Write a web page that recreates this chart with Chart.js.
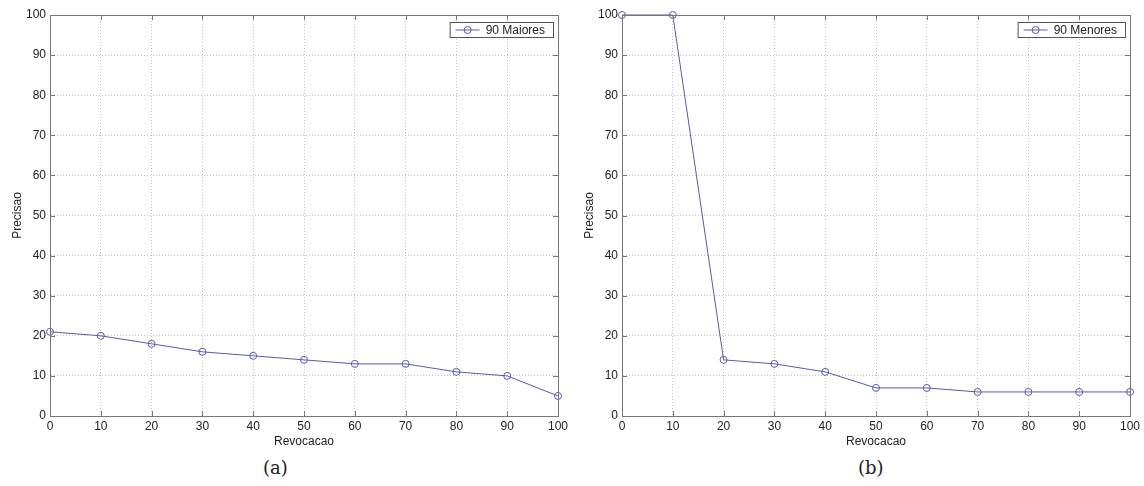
<!DOCTYPE html>
<html>
<head>
<meta charset="utf-8">
<script src="https://cdn.jsdelivr.net/npm/chart.js@4"></script>
<style>
  body { margin: 0; background: #fff; width: 1144px; height: 486px; position: relative; overflow: hidden; }
  .box { position: absolute; top: 0; width: 572px; height: 455px; }
  .cap { position: absolute; top: 457px; font: 18px "DejaVu Serif", "Liberation Serif", serif; color: #222; }
</style>
</head>
<body>
<div class="box" style="left:0"><canvas id="chartA"></canvas></div>
<div class="box" style="left:572px"><canvas id="chartB"></canvas></div>
<div class="cap" style="left:263px">(a)</div>
<div class="cap" style="left:858px">(b)</div>
<script>
// recall levels (x) and precision (y)
var recall = [0, 10, 20, 30, 40, 50, 60, 70, 80, 90, 100];
var maiores = [21, 20, 18, 16, 15, 14, 13, 13, 11, 10, 5];
var menores = [100, 100, 14, 13, 11, 7, 7, 6, 6, 6, 6];
var xTicks = [0, 10, 20, 30, 40, 50, 60, 70, 80, 90, 100];
var yTicks = [0, 10, 20, 30, 40, 50, 60, 70, 80, 90, 100];

var lineColor = '#5a5aa8';
var txt = '#222';
var font = { family: '"Liberation Sans", Arial, sans-serif', size: 12 };

// box around plot, small inner ticks and legend inside top right (matlab style)
var matlabBox = {
    id: 'matlabBox',
    afterDraw: function (chart) {
        var c = chart.ctx, a = chart.chartArea;
        c.save();
        c.strokeStyle = '#777';
        c.lineWidth = 1;
        c.strokeRect(a.left + 0.5, a.top + 0.5, a.right - a.left, a.bottom - a.top);
        c.beginPath();
        chart.scales.x.ticks.forEach(function (t) {
            var px = Math.round(chart.scales.x.getPixelForValue(t.value)) + 0.5;
            c.moveTo(px, a.bottom); c.lineTo(px, a.bottom - 5);
            c.moveTo(px, a.top); c.lineTo(px, a.top + 5);
        });
        chart.scales.y.ticks.forEach(function (t) {
            var py = Math.round(chart.scales.y.getPixelForValue(t.value)) + 0.5;
            c.moveTo(a.left, py); c.lineTo(a.left + 5, py);
            c.moveTo(a.right, py); c.lineTo(a.right - 5, py);
        });
        c.stroke();
        // legend
        var label = chart.data.datasets[0].label;
        c.font = '12px "Liberation Sans", Arial, sans-serif';
        var w = c.measureText(label).width + 44;
        var x = a.right - 5 - w, y = a.top + 7, h = 15;
        c.fillStyle = '#fff';
        c.fillRect(x, y, w, h);
        c.strokeStyle = '#555';
        c.strokeRect(x + 0.5, y + 0.5, w, h);
        c.strokeStyle = lineColor;
        c.beginPath();
        c.moveTo(x + 6, y + h / 2 + 0.5);
        c.lineTo(x + 30, y + h / 2 + 0.5);
        c.stroke();
        c.beginPath();
        c.arc(x + 18, y + h / 2 + 0.5, 3.5, 0, Math.PI * 2);
        c.stroke();
        c.fillStyle = txt;
        c.textBaseline = 'middle';
        c.fillText(label, x + 36, y + h / 2 + 1);
        c.restore();
    }
};

function makeChart(id, label, values) {
    var pts = recall.map(function (r, i) { return { x: r, y: values[i] }; });
    return new Chart(document.getElementById(id), {
        type: 'scatter',
        data: {
            datasets: [{
                label: label,
                data: pts,
                showLine: true,
                borderColor: lineColor,
                borderWidth: 1,
                backgroundColor: 'rgba(0,0,0,0)',
                pointBorderColor: lineColor,
                pointBorderWidth: 1,
                pointRadius: 3.5,
                pointHoverRadius: 3.5,
                clip: false
            }]
        },
        options: {
            responsive: true,
            maintainAspectRatio: false,
            animation: false,
            layout: { padding: { top: 15, right: 14, left: 0, bottom: 0 } },
            plugins: { legend: { display: false }, tooltip: { enabled: false } },
            scales: {
                x: {
                    type: 'linear', min: 0, max: 100,
                    afterBuildTicks: function (s) { s.ticks = xTicks.map(function (v) { return { value: v }; }); },
                    afterFit: function (s) { s.height = 39; },
                    grid: { color: '#c4c4c4', drawTicks: false, lineWidth: 1 },
                    border: { display: true, color: '#777', dash: [1, 2] },
                    ticks: { color: txt, font: font, padding: 3, maxRotation: 0 },
                    title: { display: true, text: 'Revocacao', color: txt, font: font, padding: { top: 0, bottom: 6 } }
                },
                y: {
                    min: 0, max: 100,
                    afterBuildTicks: function (s) { s.ticks = yTicks.map(function (v) { return { value: v }; }); },
                    afterFit: function (s) { s.width = 50; },
                    grid: { color: '#c4c4c4', drawTicks: false, lineWidth: 1 },
                    border: { display: true, color: '#777', dash: [1, 2] },
                    ticks: { color: txt, font: font, padding: 4 },
                    title: { display: true, text: 'Precisao', color: txt, font: font, padding: { top: 10, bottom: 0 } }
                }
            }
        },
        plugins: [matlabBox]
    });
}

makeChart('chartA', '90 Maiores', maiores);
makeChart('chartB', '90 Menores', menores);
</script>
</body>
</html>
